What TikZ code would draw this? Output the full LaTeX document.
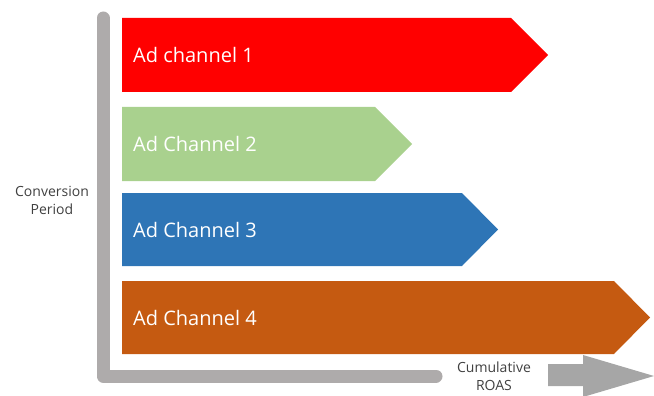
\documentclass[tikz,border=0pt]{standalone}
\usepackage{fontspec}
\setmainfont{Open Sans}
\usepackage{tikz}
\definecolor{chanred}{HTML}{FF0000}
\definecolor{changreen}{HTML}{A9D18E}
\definecolor{chanblue}{HTML}{2E75B6}
\definecolor{chanorange}{HTML}{C55A11}
\definecolor{axisgray}{HTML}{AEABAB}
\definecolor{arrowgray}{HTML}{A6A6A6}
\definecolor{labelgray}{HTML}{404040}

\begin{document}
\begin{tikzpicture}[x=1pt, y=-1pt]
      \tikzstyle{chan} = [anchor=west, inner sep=0pt, text=white, font=\fontsize{20}{24}\selectfont]
      \tikzstyle{axislabel} = [align=center, inner sep=0pt, text=labelgray, font=\fontsize{14}{18}\selectfont]
      \tikzstyle{axisline} = [draw=axisgray, line width=13pt, line cap=round, line join=round]
      \useasboundingbox (0,0) rectangle (654,396);
      % axes
      \coordinate (ytop) at (103,18);
      \coordinate (origin) at (103,376);
      \coordinate (xend) at (436,376);
      \draw[axisline] (ytop) -- (origin) -- (xend);
      \fill[arrowgray] (548,364) -- (583,364) -- (583,355) -- (654,376) -- (583,397) -- (583,386) -- (548,386) -- cycle;
      \node (yname) [axislabel] at (52,200) {Conversion\\Period};
      \node (xname) [axislabel] at (494,376) {Cumulative\\ROAS};
      % channels
      \fill[chanred] (122,18) -- (511,18) -- (548,55) -- (511,92) -- (122,92) -- cycle;
      \fill[changreen] (122,107) -- (375,107) -- (412,144) -- (375,181) -- (122,181) -- cycle;
      \fill[chanblue] (122,193) -- (462,193) -- (498,229.5) -- (462,266) -- (122,266) -- cycle;
      \fill[chanorange] (122,281) -- (614,281) -- (650,317.5) -- (614,354) -- (122,354) -- cycle;
      \node (ch1) [chan] at (133,55) {Ad channel 1};
      \node (ch2) [chan] at (133,144) {Ad Channel 2};
      \node (ch3) [chan] at (133,229.5) {Ad Channel 3};
      \node (ch4) [chan] at (133,317.5) {Ad Channel 4};
    \end{tikzpicture}
\end{document}
